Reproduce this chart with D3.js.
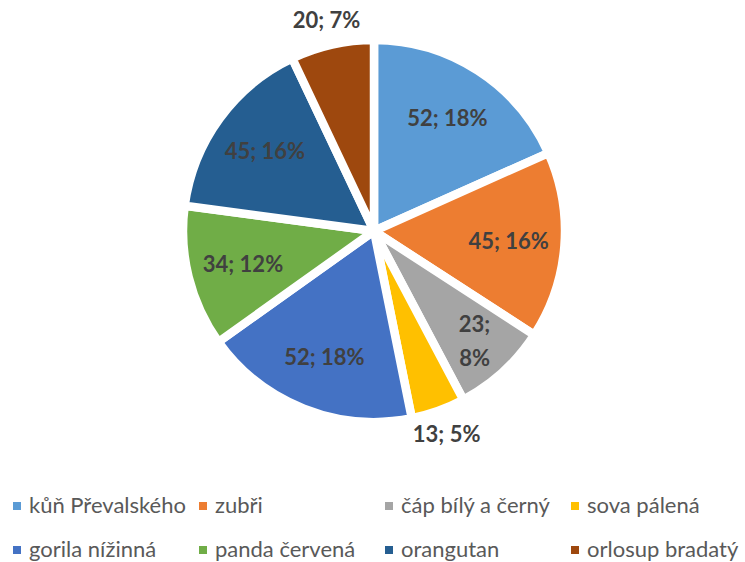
<!DOCTYPE html>
<html>
  <head>
    <meta charset="utf-8">
    <title>Zvířata</title>
    <style>
      body { margin: 0; background: #fff; }
      text.sliceLabel { font: bold 22px Lato, "Open Sans", sans-serif; fill: #404040; }
      g.legend text { font: 22px Lato, "Open Sans", sans-serif; fill: #595959; }
    </style>
  </head>
  <body>
    <svg id="svg1" width="745" height="562"></svg>

    <script src="https://cdnjs.cloudflare.com/ajax/libs/d3/7.8.5/d3.min.js"></script>
    <script>
      // data
      var categories = ["kůň Převalského", "zubři", "čáp bílý a černý", "sova pálená",
                        "gorila nížinná", "panda červená", "orangutan", "orlosup bradatý"];
      var values = [52, 45, 23, 13, 52, 34, 45, 20];
      var colors = ["#5B9BD5", "#ED7D31", "#A5A5A5", "#FFC000",
                    "#4472C4", "#70AD47", "#255E91", "#9E480E"];

      var svg = d3.select("#svg1");
      var cx = 374, cy = 231;
      var radius = 191;      // visible edge is a bit smaller because of the white stroke
      var total = d3.sum(values);

      var data = categories.map(function(c, i) {
        return {name: c, value: values[i], color: colors[i]};
      });

      var pie = d3.pie().sort(null).value(function(d) { return d.value; });
      var arc = d3.arc().innerRadius(0).outerRadius(radius);

      var g = svg.append("g").attr("transform", "translate(" + cx + "," + cy + ")");

      var slices = pie(data);

      g.selectAll("path.slice")
        .data(slices)
        .enter()
        .append("path")
        .classed("slice", true)
        .attr("d", arc)
        .attr("fill", function(d) { return d.data.color; })
        .attr("stroke", "#fff")
        .attr("stroke-width", 8.5)
        .attr("stroke-linejoin", "miter");

      // labels: inside for wide slices, wrapped for middle ones, outside for narrow
      function labelLines(d) {
        var pct = Math.round(d.data.value / total * 100) + "%";
        var span = d.endAngle - d.startAngle;
        if (span > 0.47 && span < 0.55) return [d.data.value + ";", pct];
        return [d.data.value + "; " + pct];
      }

      function labelRadius(d) {
        var span = d.endAngle - d.startAngle;
        if (span <= 0.47) return 216;
        if (span < 0.55) return 149;
        return 135;
      }

      slices.forEach(function(d) {
        var mid = (d.startAngle + d.endAngle) / 2;
        var r = labelRadius(d);
        var x = Math.sin(mid) * r;
        var y = -Math.cos(mid) * r;
        var lines = labelLines(d);
        var lineH = 34;
        var t = g.append("text")
          .classed("sliceLabel", true)
          .attr("text-anchor", "middle")
          .attr("x", x)
          .attr("y", y - (lines.length - 1) * lineH / 2 + 8);
        lines.forEach(function(l, i) {
          t.append("tspan")
            .attr("x", x)
            .attr("dy", i === 0 ? 0 : lineH)
            .text(l);
        });
      });

      // legend, 4 columns x 2 rows
      var colW = 186, legX = 17, rowY = [506, 550];

      var leg = svg.append("g").classed("legend", true);

      var items = leg.selectAll("g.item")
        .data(data)
        .enter()
        .append("g")
        .classed("item", true)
        .attr("transform", function(d, i) {
          return "translate(" + (legX + (i % 4) * colW) + "," + rowY[Math.floor(i / 4)] + ")";
        });

      items.append("rect")
        .attr("x", -4).attr("y", -4)
        .attr("width", 8).attr("height", 8)
        .attr("fill", function(d) { return d.color; });

      items.append("text")
        .attr("x", 12)
        .attr("y", 7)
        .text(function(d) { return d.name; });
    </script>
  </body>
</html>
